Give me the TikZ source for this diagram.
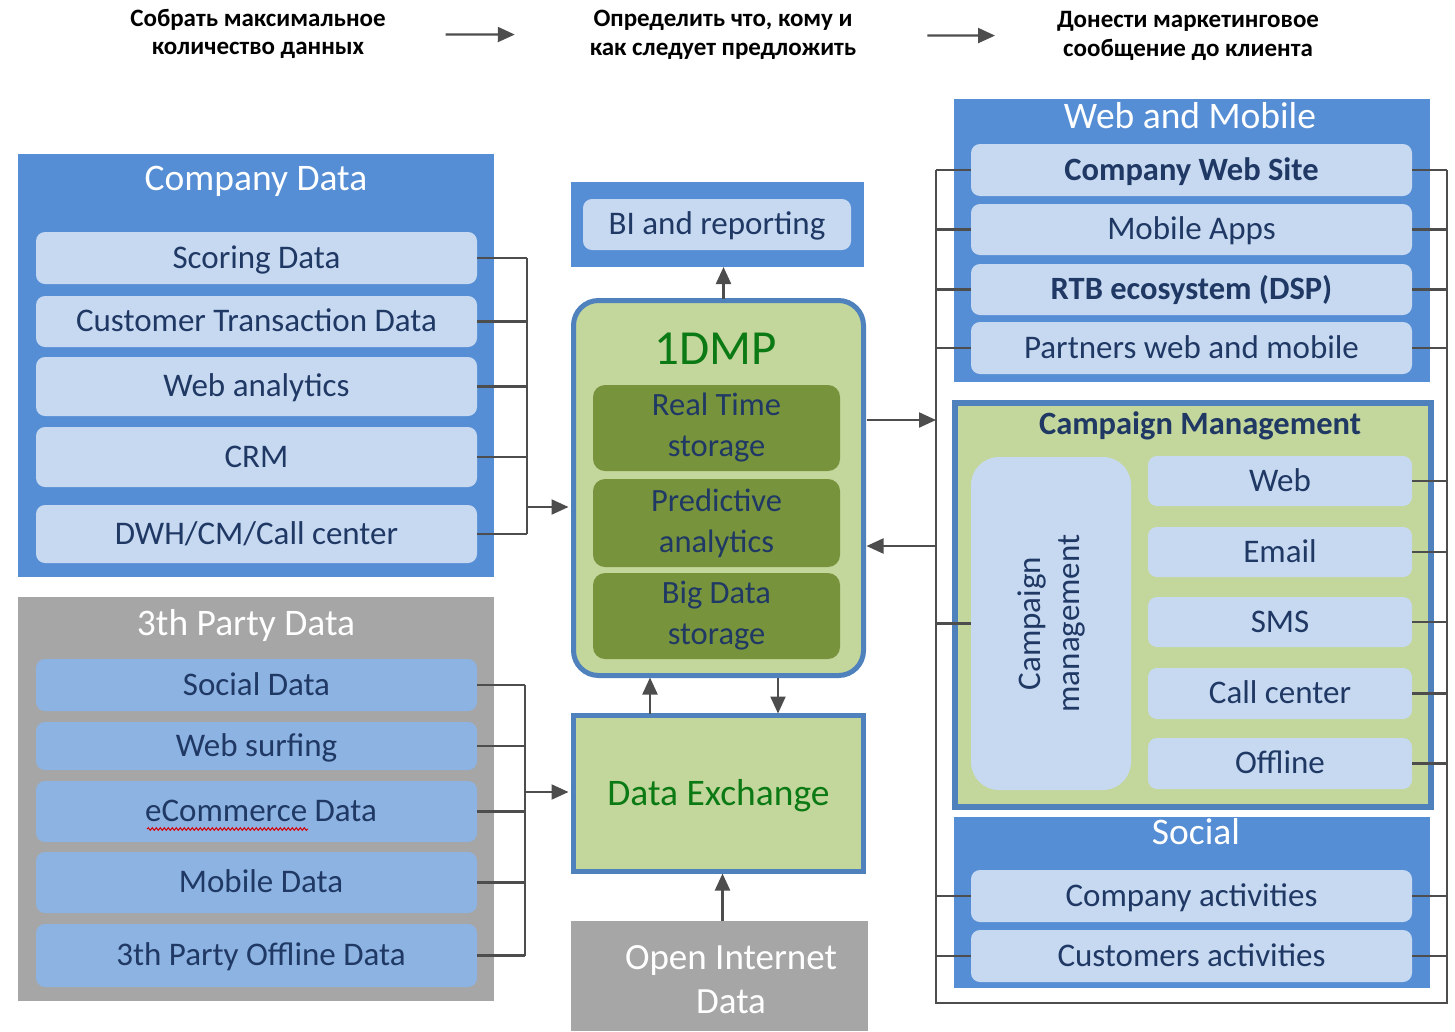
\documentclass[tikz,border=0pt]{standalone}
\usepackage{fontspec}
\setmainfont{Carlito}
\usetikzlibrary{arrows.meta,decorations.pathmorphing}
\definecolor{boxblue}{HTML}{558ED5}
\definecolor{lightblue}{HTML}{C6D9F1}
\definecolor{midblue}{HTML}{8DB3E2}
\definecolor{boxgray}{HTML}{A6A6A6}
\definecolor{lgreen}{HTML}{C3D69B}
\definecolor{dgreen}{HTML}{77933C}
\definecolor{edgeblue}{HTML}{4F81BD}
\definecolor{navy}{HTML}{1F3864}
\definecolor{txtgreen}{HTML}{0B7A14}
\definecolor{conngray}{HTML}{4D4D4D}
\begin{document}
\begin{tikzpicture}[x=1pt,y=-1pt,
  every node/.style={inner sep=0pt,outer sep=0pt},
  container/.style={fill=boxblue},
  graybox/.style={fill=boxgray},
  capc/.style={text height=#1,text depth=0pt},
  title/.style={text=white,font=\fontsize{37.5}{42}\selectfont,capc=23.6pt},
  inbox/.style={fill=lightblue,rounded corners=9pt,text=navy,font=\fontsize{33}{38}\selectfont,capc=20.8pt},
  inL/.style={inbox,minimum width=441pt},
  in3/.style={inL,fill=midblue},
  dgbox/.style={fill=dgreen,rounded corners=12pt,text=navy,align=center,minimum width=247pt,font=\fontsize{32.5}{41}\selectfont},
  greenedge/.style={fill=lgreen,draw=edgeblue,line width=5pt},
  hdr/.style={font=\bfseries\fontsize{25}{28.5}\selectfont,align=center},
  conn/.style={draw=conngray,line width=2.2pt},
  arr/.style={conn,-{Triangle[length=17pt,width=15pt]}},
]
\useasboundingbox (0,0) rectangle (1455,1031);

% ---------- header ----------
\node[hdr] (h1) at (258,34) {Собрать максимальное\\количество данных};
\node[hdr] (h2) at (723,35) {Определить что, кому и\\как следует предложить};
\node[hdr] (h3) at (1188,36) {Донести маркетинговое\\сообщение до клиента};
\draw[arr,shorten <=60pt,shorten >=75pt] (h1) -- (h2);
\draw[arr,shorten <=71pt,shorten >=62pt] (h2) -- (h3);

% ---------- Company Data ----------
\node[container,minimum width=476pt,minimum height=423pt] (cd) at (256,365.5) {};
\node[title] (cdt) at (256,179) {Company Data};
\node[inL,minimum height=52pt] (scoring) at (256.5,258) {Scoring Data};
\node[inL,minimum height=51pt] (cust) at (256.5,321.5) {Customer Transaction Data};
\node[inL,minimum height=59pt] (webana) at (256.5,386.5) {Web analytics};
\node[inL,minimum height=60pt] (crm) at (256.5,457) {CRM};
\node[inL,minimum height=58pt] (dwh) at (256.5,534) {DWH/CM/Call center};

% ---------- 3th Party Data ----------
\node[graybox,minimum width=476pt,minimum height=404pt] (tp) at (256,799) {};
\node[title] (tpt) at (246,624) {3th Party Data};
\node[in3,minimum height=52pt] (social) at (256.5,685) {Social Data};
\node[in3,minimum height=48pt] (websurf) at (256.5,746) {Web surfing};
\node[in3,minimum height=61pt] (ecom) at (256.5,811.5) {\hspace{9pt}eCommerce Data};
\node[in3,minimum height=61pt] (mobile) at (256.5,882.5) {\hspace{9pt}Mobile Data};
\node[in3,minimum height=63pt] (off3) at (256.5,955.5) {\hspace{9pt}3th Party Offline Data};
\draw[red!85!black,line width=1pt,decorate,decoration={snake,amplitude=1.3pt,segment length=4pt}] (147,829) -- (308,829);

% ---------- BI ----------
\node[container,minimum width=293pt,minimum height=85pt] (bic) at (717.5,224.5) {};
\node[inbox,minimum width=268pt,minimum height=51pt] (bi) at (717,224.5) {BI and reporting};

% ---------- 1DMP ----------
\node[greenedge,rounded corners=25pt,minimum width=290pt,minimum height=375pt] (dmp) at (718.5,488) {};
\node[text=txtgreen,font=\fontsize{49}{55}\selectfont] (dmpt) at (716,349) {1DMP};
\node[dgbox,minimum height=86pt] (rt) at (716.5,428) {Real Time\\storage};
\node[dgbox,minimum height=88pt] (pa) at (716.5,523) {Predictive\\analytics};
\node[dgbox,minimum height=86pt] (bd) at (716.5,616) {Big Data\\storage};

% ---------- Data Exchange ----------
\node[greenedge,minimum width=290pt,minimum height=156pt,text=txtgreen,font=\fontsize{37.5}{42}\selectfont,capc=23.6pt] (dx) at (718.5,793.5) {Data Exchange};

% ---------- Open Internet Data ----------
\node[graybox,minimum width=297pt,minimum height=110pt] (oid) at (719.5,976) {};
\node[text=white,align=center,font=\fontsize{37}{44}\selectfont] (oidt) at (731,980) {Open Internet\\Data};

% ---------- Web and Mobile ----------
\node[container,minimum width=476pt,minimum height=283pt] (wm) at (1192,240.5) {};
\node[title] (wmt) at (1190,117) {Web and Mobile};
\node[inL,minimum height=52pt,font=\bfseries\fontsize{32.5}{38}\selectfont] (cws) at (1191.5,170) {Company Web Site};
\node[inL,minimum height=51pt] (mapps) at (1191.5,229.5) {Mobile Apps};
\node[inL,minimum height=51pt,font=\bfseries\fontsize{32.5}{38}\selectfont] (rtb) at (1191.5,289.5) {RTB ecosystem (DSP)};
\node[inL,minimum height=52pt] (pwm) at (1191.5,348) {Partners web and mobile};

% ---------- Campaign Management ----------
\node[fill=lgreen,draw=edgeblue,line width=6pt,minimum width=476pt,minimum height=404pt] (cm) at (1193,605) {};
\node[text=navy,font=\bfseries\fontsize{32.5}{38}\selectfont,capc=20.5pt] (cmt) at (1200,424) {Campaign Management};
\node[inbox,rounded corners=28pt,minimum width=160pt,minimum height=333pt] (cmv) at (1051,623.5) {};
\node[rotate=90,text=navy,align=center,font=\fontsize{33}{39}\selectfont] (cmvt) at (1051,623.5) {Campaign\\management};
\node[inbox,minimum width=264pt,minimum height=50pt] (web) at (1280,481) {Web};
\node[inbox,minimum width=264pt,minimum height=50pt] (email) at (1280,552) {Email};
\node[inbox,minimum width=264pt,minimum height=50pt] (sms) at (1280,622) {SMS};
\node[inbox,minimum width=264pt,minimum height=51pt] (call) at (1280,693.5) {Call center};
\node[inbox,minimum width=264pt,minimum height=51pt] (offl) at (1280,763.5) {Offline};

% ---------- Social ----------
\node[container,minimum width=476pt,minimum height=171pt] (soc) at (1192,902.5) {};
\node[title] (soct) at (1196,833) {Social};
\node[inL,minimum height=52pt] (ca) at (1191.5,896) {Company activities};
\node[inL,minimum height=52pt] (cua) at (1191.5,956) {Customers activities};

% ---------- connectors: left ----------
\coordinate (busA) at (527,0);
\foreach \n in {scoring,cust,webana,crm,dwh} \draw[conn] (\n.east) -- (\n.east -| busA);
\draw[conn] (scoring.east -| busA) -- (dwh.east -| busA);
\coordinate (arrA) at (527,507);
\draw[arr,shorten >=5pt] (arrA) -- (arrA -| dmp.west);

\coordinate (busB) at (525,0);
\foreach \n in {social,websurf,ecom,mobile,off3} \draw[conn] (\n.east) -- (\n.east -| busB);
\draw[conn] (social.east -| busB) -- (off3.east -| busB);
\coordinate (arrB) at (525,792);
\draw[arr,shorten >=5pt] (arrB) -- (arrB -| dx.west);

% ---------- connectors: centre ----------
\draw[arr,shorten <=2pt] ([xshift=5pt]dmp.north) -- ([xshift=5pt]dmp.north |- bic.south);
\coordinate (upx) at (650,0);
\coordinate (dnx) at (778,0);
\draw[arr,shorten <=2pt,shorten >=2pt] (upx |- dx.north) -- (upx |- dmp.south);
\draw[arr,shorten <=2pt,shorten >=2pt] (dnx |- dmp.south) -- (dnx |- dx.north);
\draw[arr,shorten >=2pt] ([xshift=3pt]oid.north) -- ([xshift=3pt]oid.north |- dx.south);

% ---------- connectors: right ----------
\coordinate (cBL) at (936,1003);
\coordinate (cBR) at (1447,1003);
\foreach \n in {cws,mapps,rtb,pwm,cmv,ca,cua} \draw[conn] (\n.west -| cBL) -- (\n.west);
\foreach \n in {cws,mapps,rtb,pwm,web,email,sms,call,offl,ca,cua} \draw[conn] (\n.east) -- (\n.east -| cBR);
\draw[conn] (cws.west -| cBL) -- (cBL) -- (cBR) -- (cws.east -| cBR);
\coordinate (rA) at (936,420);
\coordinate (lA) at (936,546);
\draw[arr,shorten <=3pt] (rA -| dmp.east) -- (rA);
\draw[arr,shorten >=3pt] (lA) -- (lA -| dmp.east);
\end{tikzpicture}
\end{document}
